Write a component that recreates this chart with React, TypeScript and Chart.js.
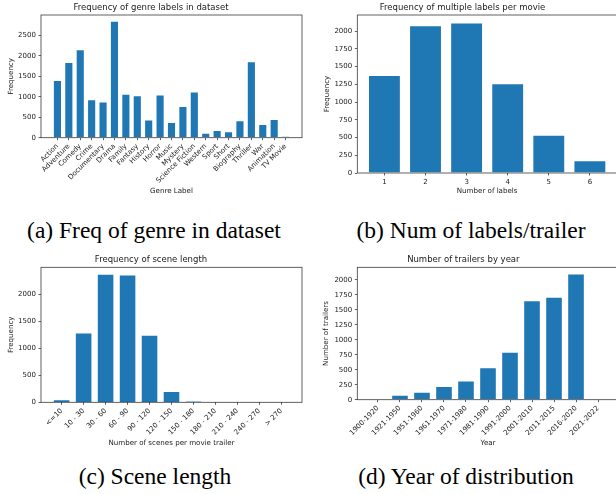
import React, { useEffect, useRef } from 'react';
import { Chart, registerables } from 'chart.js';

Chart.register(...registerables);

// ---------- data ----------
const genreLabels = [
  'Action', 'Adventure', 'Comedy', 'Crime', 'Documentary', 'Drama', 'Family', 'Fantasy',
  'History', 'Horror', 'Music', 'Mystery', 'Science Fiction', 'Western', 'Sport', 'Short',
  'Biography', 'Thriller', 'War', 'Animation', 'TV Movie',
];
const genreCounts = [1410, 1845, 2160, 935, 880, 2850, 1070, 1035, 445, 1055, 385, 775, 1125, 120, 190, 155, 425, 1865, 335, 455, 35];
const genreYTicks = [0, 500, 1000, 1500, 2000, 2500];

const labelNumbers = [1, 2, 3, 4, 5, 6];
const labelNumberCounts = [1380, 2080, 2120, 1265, 540, 180];
const labelYTicks = [0, 250, 500, 750, 1000, 1250, 1500, 1750, 2000];

const sceneLabels = ['<=10', '10 - 30', '30 - 60', '60 - 90', '90 - 120', '120 - 150', '150 - 180', '180 - 210', '210 - 240', '240 - 270', '> 270'];
const sceneCounts = [55, 1290, 2375, 2360, 1250, 210, 20, 4, 1, 0, 0];
const sceneYTicks = [0, 500, 1000, 1500, 2000];

const yearLabels = ['1900-1920', '1921-1950', '1951-1960', '1961-1970', '1971-1980', '1981-1990', '1991-2000', '2001-2010', '2011-2015', '2016-2020', '2021-2022'];
const yearCounts = [12, 82, 132, 228, 322, 540, 802, 1662, 1718, 2105, 10];
const yearYTicks = [0, 250, 500, 750, 1000, 1250, 1500, 1750, 2000];

const captionTexts = ['(a) Freq of genre in dataset', '(b) Num of labels/trailer', '(c) Scene length', '(d) Year of distribution'];

// ---------- style ----------
const FONT = 'DejaVu Sans';
const TEXT = '#1a1a1a';
const SPINE = '#3a3a3a';
const BAR = '#1f77b4';
const EDGE = 'rgba(255,255,255,0.55)';
const TICK_SIZE = 7;
const AXIS_SIZE = 7.1;
const TITLE_SIZE = 8.5;

const framePlugin = {
  id: 'frame',
  afterDatasetsDraw(chart: any) {
    const { ctx, chartArea: a } = chart;
    ctx.save();
    ctx.strokeStyle = SPINE;
    ctx.lineWidth = 0.8;
    ctx.strokeRect(a.left, a.top, a.right - a.left, a.bottom - a.top);
    ctx.restore();
  },
};

type PanelSpec = {
  left: number; top: number; width: number; height: number;
  area: { left: number; top: number; right: number; bottom: number };
  title: string; titleY: number;
  xTitle: string; xTitleY: number;
  yTitle: string; yTitleX: number;
  xs: number[]; labels: string[]; values: number[];
  xmin: number; xmax: number; yTicks: number[];
  rotate: boolean;
};

function buildConfig(p: PanelSpec): any {
  const titleLH = TITLE_SIZE * 1.2;
  const titleBottom = p.area.top - p.titleY - titleLH / 2;
  const titleTop = p.area.top - titleLH - titleBottom;
  const axisLH = AXIS_SIZE * 1.2;
  const ymax = Math.max(...p.values) * 1.05;
  return {
    type: 'bar',
    data: {
      datasets: [{
        data: p.xs.map((x, i) => ({ x, y: p.values[i] })),
        backgroundColor: BAR,
        borderColor: EDGE,
        borderWidth: 1,
        barPercentage: 0.8,
        categoryPercentage: 1,
      }],
    },
    options: {
      responsive: false,
      animation: false,
      devicePixelRatio: 1,
      layout: { padding: { left: 0, top: 0, bottom: 0, right: p.width - p.area.right } },
      plugins: {
        legend: { display: false },
        tooltip: { enabled: false },
        title: {
          display: true,
          text: p.title,
          color: TEXT,
          font: { family: FONT, size: TITLE_SIZE, weight: 'normal', lineHeight: 1.2 },
          padding: { top: titleTop, bottom: titleBottom },
        },
      },
      scales: {
        x: {
          type: 'linear',
          offset: false,
          min: p.xmin,
          max: p.xmax,
          afterBuildTicks: (ax: any) => { ax.ticks = p.xs.map((v) => ({ value: v })); },
          afterFit: (ax: any) => { ax.height = p.height - p.area.bottom; },
          border: { display: false },
          grid: { offset: false, drawOnChartArea: false, drawTicks: true, tickLength: 2.5, color: SPINE, lineWidth: 0.8 },
          ticks: {
            autoSkip: false,
            minRotation: p.rotate ? 45 : 0,
            maxRotation: p.rotate ? 45 : 0,
            padding: 2,
            color: TEXT,
            font: { family: FONT, size: TICK_SIZE, lineHeight: 1.2 },
            callback: (v: any) => {
              const i = p.xs.indexOf(Number(v));
              return i >= 0 ? p.labels[i] : '';
            },
          },
          title: {
            display: true,
            text: p.xTitle,
            color: TEXT,
            font: { family: FONT, size: AXIS_SIZE, lineHeight: 1.2 },
            padding: { top: 0, bottom: p.height - p.xTitleY - axisLH / 2 },
          },
        },
        y: {
          type: 'linear',
          min: 0,
          max: ymax,
          afterBuildTicks: (ax: any) => { ax.ticks = p.yTicks.map((v) => ({ value: v })); },
          afterFit: (ax: any) => { ax.width = p.area.left; },
          border: { display: false },
          grid: { drawOnChartArea: false, drawTicks: true, tickLength: 2.5, color: SPINE, lineWidth: 0.8 },
          ticks: {
            autoSkip: false,
            padding: 2.6,
            color: TEXT,
            font: { family: FONT, size: TICK_SIZE, lineHeight: 1.2 },
            callback: (v: any) => String(v),
          },
          title: {
            display: true,
            text: p.yTitle,
            color: TEXT,
            font: { family: FONT, size: AXIS_SIZE, lineHeight: 1.2 },
            padding: { top: p.yTitleX - axisLH / 2, bottom: 0 },
          },
        },
      },
    },
    plugins: [framePlugin],
  };
}

const panels: PanelSpec[] = [
  {
    left: 0, top: 0, width: 308, height: 210,
    area: { left: 41, top: 15, right: 302, bottom: 137.7 },
    title: 'Frequency of genre labels in dataset', titleY: 7.3,
    xTitle: 'Genre Label', xTitleY: 191,
    yTitle: 'Frequency', yTitleX: 11,
    xs: genreLabels.map((_, i) => i), labels: genreLabels, values: genreCounts,
    xmin: -1.44, xmax: 21.44, yTicks: genreYTicks, rotate: true,
  },
  {
    left: 308, top: 0, width: 320, height: 210,
    area: { left: 49.3, top: 15, right: 309, bottom: 173 },
    title: 'Frequency of multiple labels per movie', titleY: 7.3,
    xTitle: 'Number of labels', xTitleY: 191,
    yTitle: 'Frequency', yTitleX: 19,
    xs: labelNumbers, labels: labelNumbers.map(String), values: labelNumberCounts,
    xmin: 0.34, xmax: 6.66, yTicks: labelYTicks, rotate: false,
  },
  {
    left: 0, top: 245, width: 308, height: 210,
    area: { left: 41, top: 22.3, right: 302, bottom: 157.3 },
    title: 'Frequency of scene length', titleY: 15,
    xTitle: 'Number of scenes per movie trailer', xTitleY: 198.3,
    yTitle: 'Frequency', yTitleX: 11,
    xs: sceneLabels.map((_, i) => i), labels: sceneLabels, values: sceneCounts,
    xmin: -0.94, xmax: 10.94, yTicks: sceneYTicks, rotate: true,
  },
  {
    left: 308, top: 245, width: 320, height: 210,
    area: { left: 49.3, top: 22.3, right: 310.7, bottom: 154.7 },
    title: 'Number of trailers by year', titleY: 15,
    xTitle: 'Year', xTitleY: 198,
    yTitle: 'Number of trailers', yTitleX: 18.3,
    xs: yearLabels.map((_, i) => i), labels: yearLabels, values: yearCounts,
    xmin: -0.94, xmax: 10.94, yTicks: yearYTicks, rotate: true,
  },
];

const captionPos = [
  { cx: 154, baseline: 239 },
  { cx: 471, baseline: 239 },
  { cx: 155, baseline: 485 },
  { cx: 466, baseline: 485 },
];

function Panel({ spec }: { spec: PanelSpec }) {
  const ref = useRef<HTMLCanvasElement | null>(null);
  useEffect(() => {
    if (!ref.current) return;
    const chart = new Chart(ref.current, buildConfig(spec));
    return () => chart.destroy();
  }, [spec]);
  return (
    <canvas
      ref={ref}
      width={spec.width}
      height={spec.height}
      style={{ position: 'absolute', left: spec.left, top: spec.top, width: spec.width, height: spec.height }}
    />
  );
}

export default function App() {
  const capSize = 23.5;
  return (
    <div style={{ position: 'absolute', left: 0, top: 0, width: 616, height: 494, overflow: 'hidden', background: '#fff' }}>
      {panels.map((p, i) => <Panel key={i} spec={p} />)}
      {captionTexts.map((t, i) => (
        <div
          key={'c' + i}
          style={{
            position: 'absolute',
            left: captionPos[i].cx - 200,
            width: 400,
            top: captionPos[i].baseline - capSize * 0.8375,
            textAlign: 'center',
            fontFamily: '"Liberation Serif", "Times New Roman", serif',
            fontSize: capSize,
            lineHeight: 1,
            color: '#000',
            whiteSpace: 'nowrap',
          }}
        >
          {t}
        </div>
      ))}
    </div>
  );
}
